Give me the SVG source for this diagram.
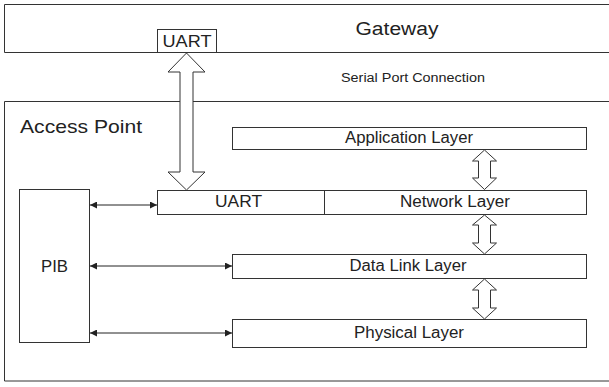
<svg xmlns="http://www.w3.org/2000/svg" width="609" height="387" viewBox="0 0 609 387">
<defs>
<marker id="ah" viewBox="0 0 10 10" refX="10" refY="5" markerWidth="9" markerHeight="7" markerUnits="userSpaceOnUse" orient="auto-start-reverse">
<path d="M0,0 L10,5 L0,10 Z" fill="#222"/>
</marker>
</defs>
<style>
.box{fill:#fff;stroke:#333;stroke-width:1}
.t{font-family:"Liberation Sans",Arial,sans-serif;fill:#222}
.fat{fill:#fff;stroke:#333;stroke-width:1}
.ln{stroke:#222;stroke-width:1;fill:none}
</style>
<rect width="609" height="387" fill="#fff"/>
<g id="gateway">
<path class="box" d="M615,4.5 H4.5 V52.5 H615"/>
<text class="t" x="397" y="35" font-size="18" text-anchor="middle" textLength="83" lengthAdjust="spacingAndGlyphs">Gateway</text>
</g>
<g id="access-point">
<path class="box" d="M615,101.5 H4.5 V381 H615"/>
<text class="t" x="20" y="133" font-size="19" textLength="122" lengthAdjust="spacingAndGlyphs">Access Point</text>
</g>
<g id="serial-label">
<text class="t" x="413" y="82" font-size="12.5" text-anchor="middle" textLength="144" lengthAdjust="spacingAndGlyphs">Serial Port Connection</text>
</g>
<g id="gw-uart">
<rect class="box" x="157.5" y="29.5" width="59" height="23"/>
<text class="t" x="187" y="47" font-size="16.5" text-anchor="middle" textLength="49" lengthAdjust="spacingAndGlyphs">UART</text>
</g>
<g id="ap-uart">
<rect class="box" x="157.5" y="190.5" width="167" height="24"/>
<text class="t" x="238.5" y="207" font-size="16.5" text-anchor="middle" textLength="47" lengthAdjust="spacingAndGlyphs">UART</text>
</g>
<g id="network-layer">
<rect class="box" x="324.5" y="190.5" width="262" height="24"/>
<text class="t" x="455" y="207" font-size="16" text-anchor="middle" textLength="110" lengthAdjust="spacingAndGlyphs">Network Layer</text>
</g>
<g id="application-layer">
<rect class="box" x="232.5" y="127.5" width="354" height="22"/>
<text class="t" x="409" y="143" font-size="16" text-anchor="middle" textLength="128" lengthAdjust="spacingAndGlyphs">Application Layer</text>
</g>
<g id="data-link-layer">
<rect class="box" x="232.5" y="254.5" width="354" height="24"/>
<text class="t" x="408" y="271" font-size="16" text-anchor="middle" textLength="117" lengthAdjust="spacingAndGlyphs">Data Link Layer</text>
</g>
<g id="physical-layer">
<rect class="box" x="232.5" y="319.5" width="354" height="28"/>
<text class="t" x="409" y="338" font-size="16" text-anchor="middle" textLength="110" lengthAdjust="spacingAndGlyphs">Physical Layer</text>
</g>
<g id="pib">
<rect class="box" x="19.5" y="189.5" width="70" height="153"/>
<text class="t" x="54.5" y="272" font-size="17" text-anchor="middle" textLength="27" lengthAdjust="spacingAndGlyphs">PIB</text>
</g>
<g id="connectors">
<path class="fat" d="M186.5,53 L205,72 L193,72 L193,172 L205,172 L186.5,190 L168,172 L180,172 L180,72 L168,72 Z"/>
<path class="fat" d="M484.5,150 L496.5,161 L490.5,161 L490.5,178 L496.5,178 L484.5,189.5 L472.5,178 L478.5,178 L478.5,161 L472.5,161 Z"/>
<path class="fat" d="M484.5,215 L496.5,225 L490.5,225 L490.5,243 L496.5,243 L484.5,254 L472.5,243 L478.5,243 L478.5,225 L472.5,225 Z"/>
<path class="fat" d="M484.5,279 L496.5,290 L490.5,290 L490.5,308 L496.5,308 L484.5,319 L472.5,308 L478.5,308 L478.5,290 L472.5,290 Z"/>
<line class="ln" x1="90" y1="205" x2="157" y2="205" marker-start="url(#ah)" marker-end="url(#ah)"/>
<line class="ln" x1="90" y1="266" x2="232" y2="266" marker-start="url(#ah)" marker-end="url(#ah)"/>
<line class="ln" x1="90" y1="333" x2="232" y2="333" marker-start="url(#ah)" marker-end="url(#ah)"/>
</g>
</svg>
